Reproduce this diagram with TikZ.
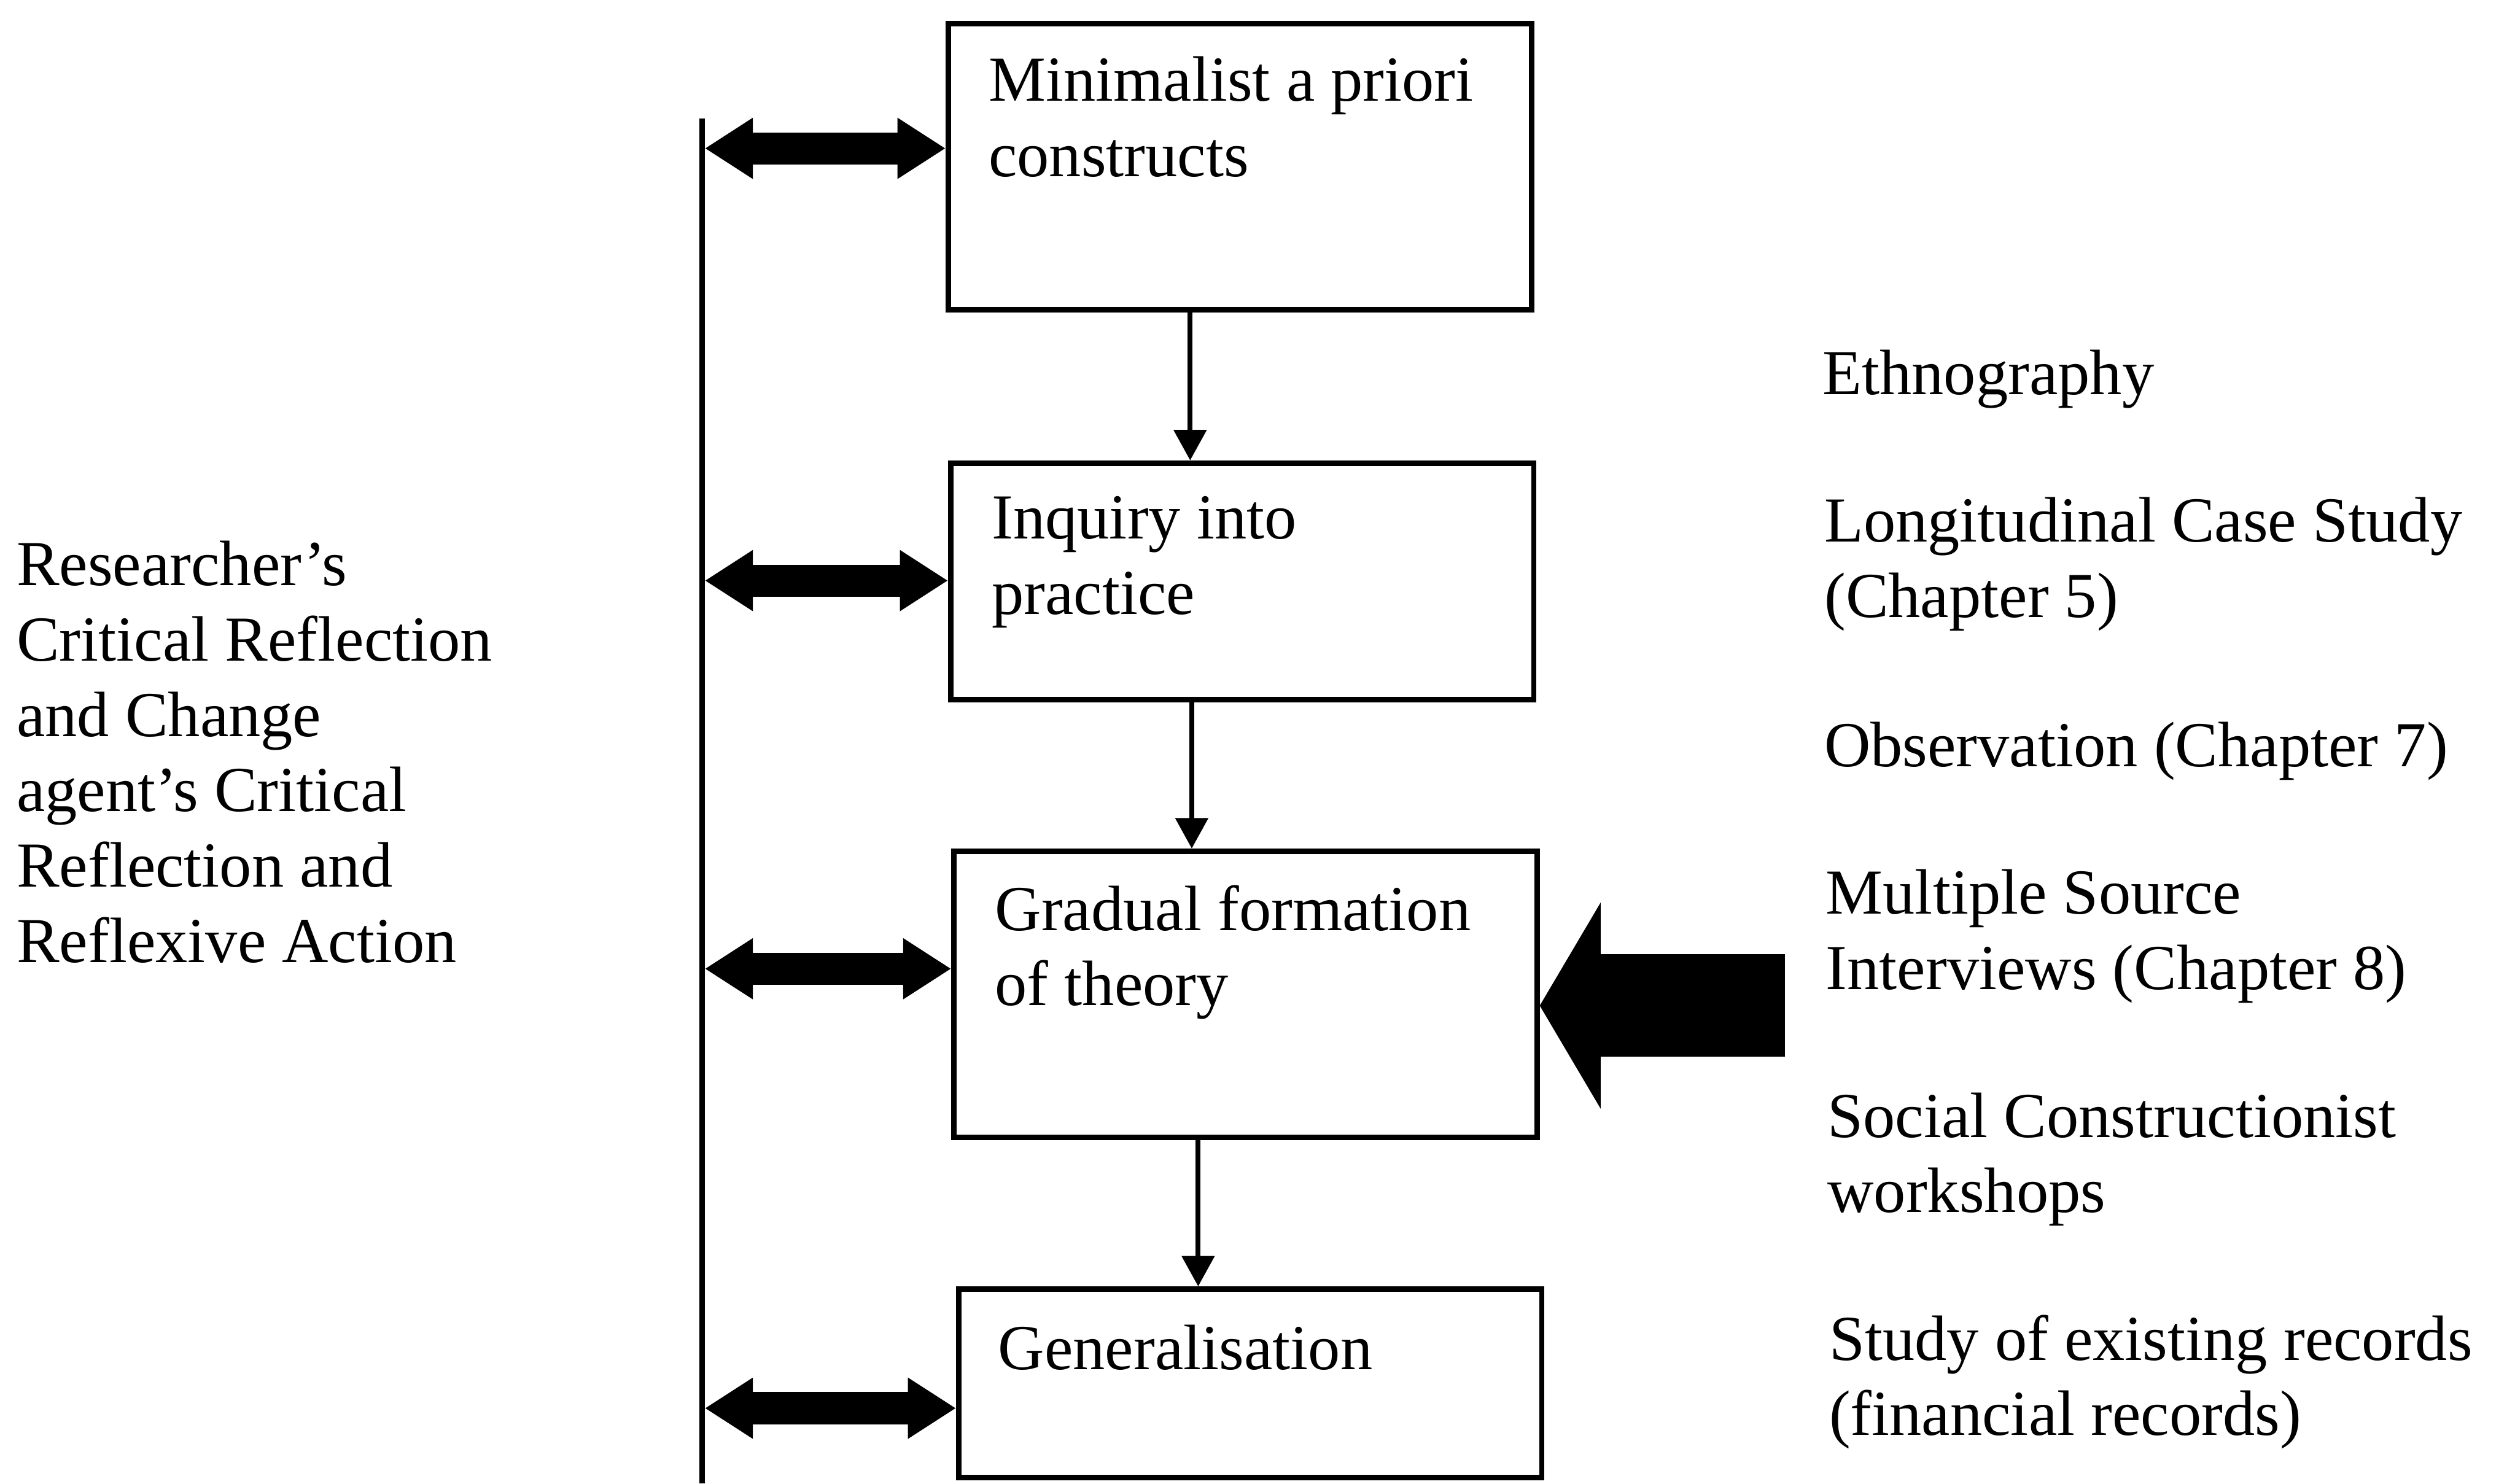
\documentclass[tikz,border=0pt]{standalone}
\usepackage{fontspec}
\setmainfont{Liberation Serif}
\usetikzlibrary{arrows.meta}
\begin{document}
\begin{tikzpicture}[x=0.5pt,y=-0.5pt,
  stage/.style={draw,line width=1.7pt,inner sep=0pt,minimum width=181.75pt},
  % text blocks are placed by the baseline of their last line
  txt/.style={anchor=base west,inner sep=0pt,align=left,
              font=\fontsize{20pt}{23.5pt}\selectfont},
  flow/.style={line width=1.5pt,-{Triangle[length=9.5pt,width=10pt]}},
  link/.style={line width=10pt,
               {Triangle[length=15pt,width=18pt]}-{Triangle[length=15pt,width=18pt]}},
  feed/.style={line width=32pt,-{Triangle[length=19pt,width=63.5pt]}}]
\useasboundingbox (0,0) rectangle (1568,925);

% the four stages of the process
\node[stage,minimum height=89.25pt] (b1) at (773,104) {};
\node[stage,minimum height=73.75pt] (b2) at (774.5,362.5) {};
\node[stage,minimum height=89.25pt] (b3) at (776.5,620) {};
\node[stage,minimum height=58.75pt] (b4) at (779.5,862.5) {};

\node[txt] (t1) at (616,110) {Minimalist a priori\\constructs};
\node[txt] (t2) at (618,383) {Inquiry into\\practice};
\node[txt] (t3) at (620,627) {Gradual formation\\of theory};
\node[txt] (t4) at (622,854) {Generalisation};

% downward flow between stages
\draw[flow] (b1.south -| 742,0) -- (b2.north -| 742,0);
\draw[flow] (b2.south -| 743,0) -- (b3.north -| 743,0);
\draw[flow] (b3.south -| 747,0) -- (b4.north -| 747,0);

% reflection spine with two-way links to every stage
\coordinate (top) at (437.7,73.7);
\coordinate (bot) at (437.7,925);
\draw[line width=1.7pt] (top) -- (bot);
\coordinate (s1) at (439.4,92.5);
\coordinate (s2) at (439.4,362);
\coordinate (s3) at (439.4,604);
\coordinate (s4) at (439.4,878);
\draw[link] (s1) -- (s1 -| b1.west);
\draw[link] (s2) -- (s2 -| b2.west);
\draw[link] (s3) -- (s3 -| b3.west);
\draw[link] (s4) -- (s4 -| b4.west);

\node[txt] (refl) at (10,600) {Researcher’s\\Critical Reflection\\and Change\\agent’s Critical\\Reflection and\\Reflexive Action};

% research methods feeding theory formation
\node[txt] (m1) at (1136,246) {Ethnography};
\node[txt] (m2) at (1137,385) {Longitudinal Case Study\\(Chapter 5)};
\node[txt] (m3) at (1137,478) {Observation (Chapter 7)};
\node[txt] (m4) at (1138,617) {Multiple Source\\Interviews (Chapter 8)};
\node[txt] (m5) at (1139,756) {Social Constructionist\\workshops};
\node[txt] (m6) at (1140,895) {Study of existing records\\(financial records)};

\coordinate (src) at (1113,627);
\draw[feed] (src) -- (src -| b3.east);
\end{tikzpicture}
\end{document}
